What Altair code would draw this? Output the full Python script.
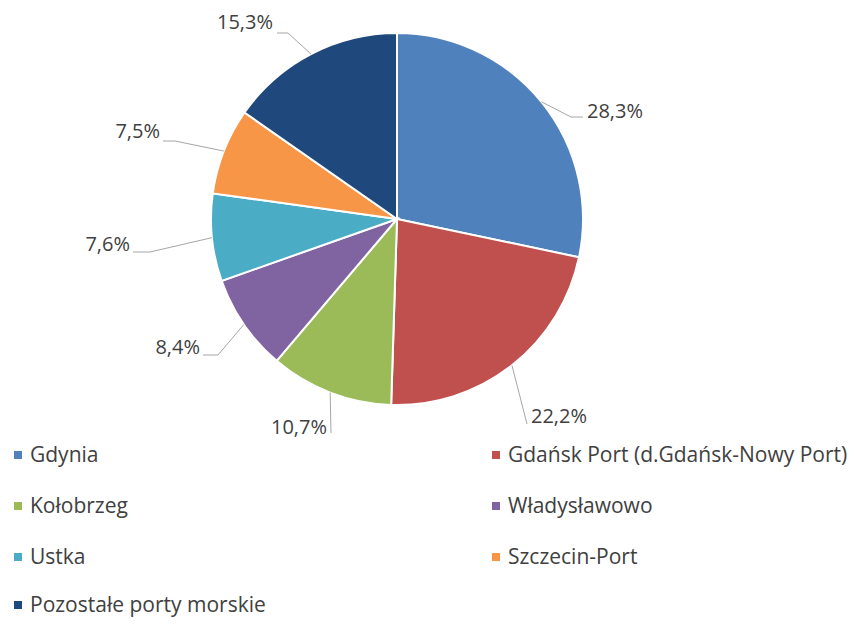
import math
import altair as alt
import pandas as pd

# ---- data ----
ports = ["Gdynia", "Gdańsk Port (d.Gdańsk-Nowy Port)", "Kołobrzeg", "Władysławowo",
         "Ustka", "Szczecin-Port", "Pozostałe porty morskie"]
shares = [28.3, 22.2, 10.7, 8.4, 7.6, 7.5, 15.3]
labels = ["28,3%", "22,2%", "10,7%", "8,4%", "7,6%", "7,5%", "15,3%"]
colors = ["#4F81BD", "#C0504D", "#9BBB59", "#8064A2", "#4BACC6", "#F79646", "#1F497D"]

# ---- layout (page pixel coordinates) ----
W, H = 840, 610
CX, CY, R = 397, 219, 186
# leader elbow, leader end, text anchor, text align
leader_layout = [
    ((571, 117), (583, 117), (587, 112), "left"),
    ((527, 424), (527, 424), (531, 417), "left"),
    ((331, 433), (331, 433), (327, 428), "right"),
    ((218, 355), (203, 355), (200, 348), "right"),
    ((150, 252), (133, 252), (130, 245), "right"),
    ((175, 141), (163, 141), (160, 132), "right"),
    ((288, 33), (277, 33), (273, 23), "right"),
]
legend_baselines = [462, 513, 564, 612]
FONT = "Open Sans"
TXT = "#404040"

df = pd.DataFrame({"port": ports, "share": shares, "idx": range(len(ports))})

xs = alt.Scale(domain=[8, 8 + W], range=[0, W])
ys = alt.Scale(domain=[8, 8 + H], range=[0, H])

pie = alt.Chart(df).mark_arc(outerRadius=R, stroke="white", strokeWidth=2).encode(
    theta=alt.Theta("share:Q", stack=True),
    order=alt.Order("idx:Q"),
    color=alt.Color("port:N", scale=alt.Scale(domain=ports, range=colors), legend=None),
    x=alt.value(CX - 8),
    y=alt.value(CY - 8),
)

# leader lines from slice mid-angle edge to label
total = sum(shares)
rows = []
text_rows = []
cum = 0.0
for i, (s, lab) in enumerate(zip(shares, labels)):
    mid = (cum + s / 2) / total * 2 * math.pi
    cum += s
    sx = CX + R * math.sin(mid)
    sy = CY - R * math.cos(mid)
    elbow, end, tpos, align = leader_layout[i]
    for j, (px, py) in enumerate([(sx, sy), elbow, end]):
        rows.append({"slice": i, "o": j, "x": px, "y": py})
    text_rows.append({"label": lab, "x": tpos[0], "y": tpos[1], "align": align})

lines_df = pd.DataFrame(rows)
text_df = pd.DataFrame(text_rows)

leaders = alt.Chart(lines_df).mark_line(color="#A6A6A6", strokeWidth=1).encode(
    x=alt.X("x:Q", scale=xs, axis=None),
    y=alt.Y("y:Q", scale=ys, axis=None),
    detail="slice:N",
    order="o:Q",
)

def text_layer(align):
    return alt.Chart(text_df[text_df["align"] == align]).mark_text(
        align=align, baseline="middle", font=FONT, fontSize=20, color=TXT
    ).encode(
        x=alt.X("x:Q", scale=xs, axis=None),
        y=alt.Y("y:Q", scale=ys, axis=None),
        text="label:N",
    )

# custom legend: two columns
leg_rows = []
for i, p in enumerate(ports):
    col, row = i % 2, i // 2
    mx = 18 if col == 0 else 496
    b = legend_baselines[row]
    leg_rows.append({"port": p, "mx": mx, "tx": mx + 12, "y": b, "my": b - 7})
leg_df = pd.DataFrame(leg_rows)

leg_marks = alt.Chart(leg_df).mark_square(size=64, opacity=1).encode(
    x=alt.X("mx:Q", scale=xs, axis=None),
    y=alt.Y("my:Q", scale=ys, axis=None),
    color=alt.Color("port:N", scale=alt.Scale(domain=ports, range=colors), legend=None),
)
leg_text = alt.Chart(leg_df).mark_text(
    align="left", baseline="alphabetic", font=FONT, fontSize=21, color=TXT
).encode(
    x=alt.X("tx:Q", scale=xs, axis=None),
    y=alt.Y("y:Q", scale=ys, axis=None),
    text="port:N",
)

chart = alt.layer(pie, leaders, text_layer("left"), text_layer("right"), leg_marks, leg_text).properties(
    width=W, height=H, autosize="none", padding=0, background="white"
).configure_view(stroke=None)

chart.save("out.html", embed_options={"renderer": "svg", "actions": False})
